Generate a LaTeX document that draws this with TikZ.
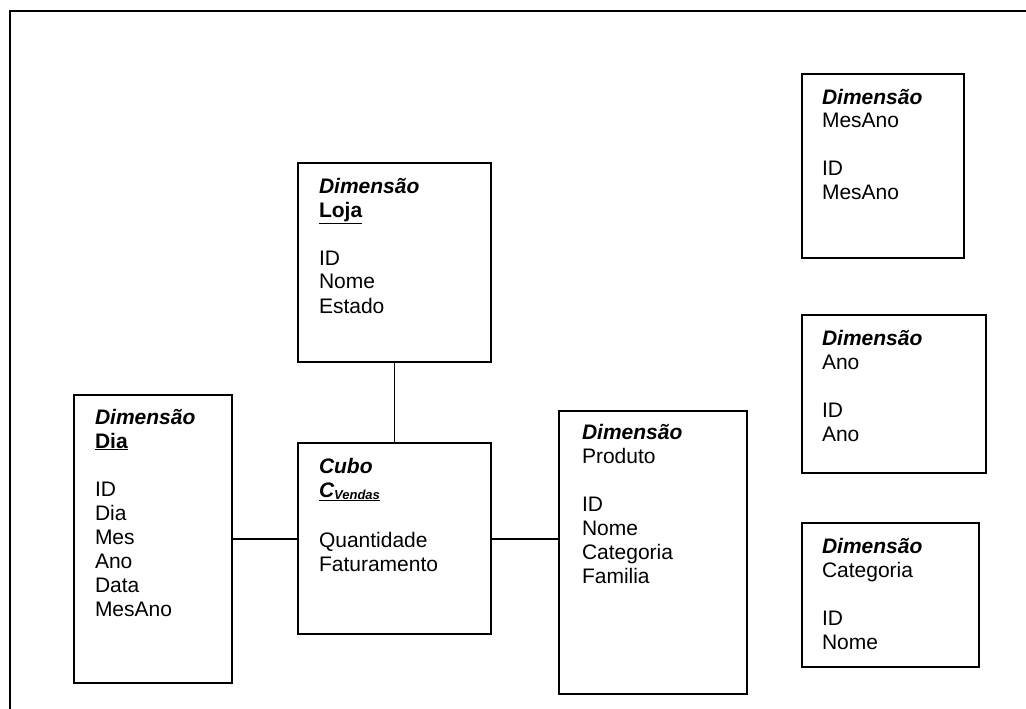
\documentclass[tikz,border=0pt]{standalone}
\usepackage{fontspec}
\setmainfont{Liberation Sans}
\newcommand{\boxlines}[1]{\begin{tabular}[t]{@{}l@{}}#1\end{tabular}}
\begin{document}
\begin{tikzpicture}[x=1pt,y=-1pt,
  box/.style={draw, line width=1.7pt, rectangle, anchor=north west, inner sep=0pt, outer sep=0pt},
  txt/.style={anchor=base west, inner sep=0pt, outer sep=0pt,
    font=\fontsize{21}{24}\selectfont},
  conn/.style={line width=1.3pt},
  frame/.style={line width=1.8pt}]
\useasboundingbox (0,0) rectangle (1026,709);
% outer frame (open at bottom and right)
\coordinate (fbl) at (10,709);
\coordinate (ftl) at (10,11);
\coordinate (ftr) at (1026,11);
\draw[frame] (fbl) -- (ftl) -- (ftr);
% boxes
\node[box, minimum width=193pt, minimum height=199pt] (loja) at (298,163) {};
\node[box, minimum width=193pt, minimum height=191pt] (cubo) at (298,443) {};
\node[box, minimum width=158pt, minimum height=288pt] (dia) at (74,395) {};
\node[box, minimum width=188pt, minimum height=283pt] (prod) at (559,411) {};
\node[box, minimum width=162pt, minimum height=184pt] (mesano) at (802,74) {};
\node[box, minimum width=184pt, minimum height=158pt] (ano) at (802,315) {};
\node[box, minimum width=177pt, minimum height=144pt] (cat) at (802,523) {};
% texts
\node[txt] (tloja) at ([shift={(21,30)}]loja.north west)
  {\boxlines{\textbf{\textit{Dimensão}}\\\textbf{\underline{Loja}}\\ \\ID\\Nome\\Estado}};
\node[txt] (tcubo) at ([shift={(21,30)}]cubo.north west)
  {\boxlines{\textbf{\textit{Cubo}}\\\textbf{\textit{\underline{C\raisebox{-2pt}{\fontsize{13}{13}\selectfont Vendas}}}}\\[26pt]Quantidade\\Faturamento}};
\node[txt] (tdia) at ([shift={(21,29)}]dia.north west)
  {\boxlines{\textbf{\textit{Dimensão}}\\\textbf{\underline{Dia}}\\ \\ID\\Dia\\Mes\\Ano\\Data\\MesAno}};
\node[txt] (tprod) at ([shift={(23,28)}]prod.north west)
  {\boxlines{\textbf{\textit{Dimensão}}\\Produto\\ \\ID\\Nome\\Categoria\\Familia}};
\node[txt] (tmesano) at ([shift={(20,30)}]mesano.north west)
  {\boxlines{\textbf{\textit{Dimensão}}\\MesAno\\ \\ID\\MesAno}};
\node[txt] (tano) at ([shift={(20,30)}]ano.north west)
  {\boxlines{\textbf{\textit{Dimensão}}\\Ano\\ \\ID\\Ano}};
\node[txt] (tcat) at ([shift={(20,30)}]cat.north west)
  {\boxlines{\textbf{\textit{Dimensão}}\\Categoria\\ \\ID\\Nome}};
% connectors
\draw[conn] (loja.south) -- (cubo.north);
\draw[conn] (dia.east |- 0,539) -- (cubo.west |- 0,539);
\draw[conn] (cubo.east |- 0,539) -- (prod.west |- 0,539);
\end{tikzpicture}
\end{document}
